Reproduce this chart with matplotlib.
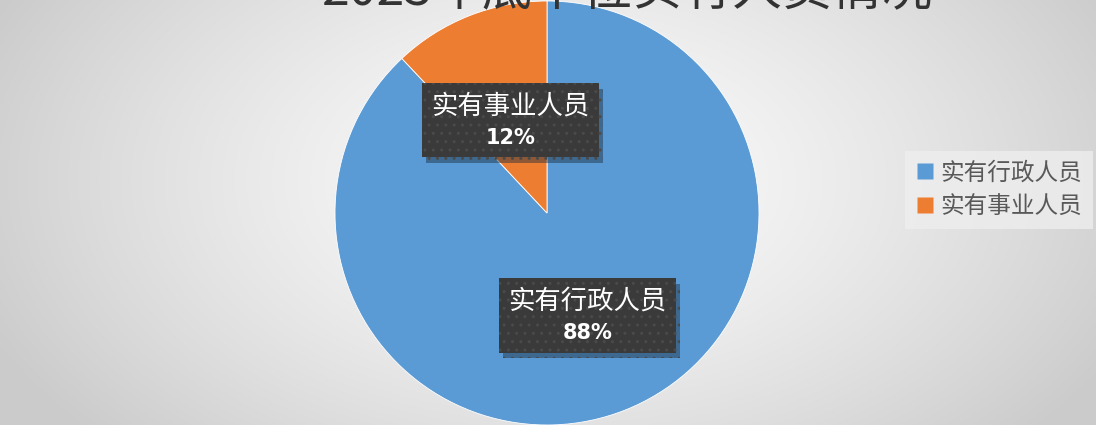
import numpy as np
import matplotlib
matplotlib.use("Agg")
import matplotlib.pyplot as plt
from matplotlib import patheffects as pe
from matplotlib.offsetbox import TextArea, VPacker, AnnotationBbox

plt.rcParams['font.family'] = ['Noto Sans CJK SC', 'DejaVu Sans']
plt.rcParams['hatch.linewidth'] = 1.0

title = "2023年底单位实有人员情况"
categories = ["实有行政人员", "实有事业人员"]
values = [88, 12]
colors = ["#5B9BD5", "#ED7D31"]

W, H = 1096, 425
fig = plt.figure(figsize=(W / 100, H / 100), dpi=100)

# radial gradient background
bg = fig.add_axes([0, 0, 1, 1], zorder=0)
yy, xx = np.mgrid[0:H, 0:W]
cx, cy = 560, 180
d = np.sqrt(((xx - cx) / 620.0) ** 2 + ((yy - cy) / 380.0) ** 2)
d = np.clip(d, 0, 1)
lo, hi = 0.985, 0.80
g = lo + (hi - lo) * d ** 1.4
img = np.dstack([g, g, g])
bg.imshow(img, aspect='auto', extent=[0, 1, 0, 1], origin='upper')
bg.set_axis_off()

# pie axes: center (547,213) radius 212 px
r_px = 212
cxp, cyp = 547, 213
ax = fig.add_axes([(cxp - r_px) / W, (H - cyp - r_px) / H, 2 * r_px / W, 2 * r_px / H], zorder=1)
wedges, _ = ax.pie(values, colors=colors, startangle=90, counterclock=False,
                   wedgeprops=dict(edgecolor='white', linewidth=0.6))
ax.set_xlim(-1, 1)
ax.set_ylim(-1, 1)
ax.set_aspect('equal')
ax.set_axis_off()

label_r = [0.52, 0.47]
for w, cat, v, lr in zip(wedges, categories, values, label_r):
    ang = np.deg2rad((w.theta1 + w.theta2) / 2)
    x, y = lr * np.cos(ang), lr * np.sin(ang)
    t1 = TextArea(cat, textprops=dict(fontsize=19, color='white'))
    t2 = TextArea(f"{v}%", textprops=dict(fontsize=15, fontweight='bold', color='white',
                                          family=['DejaVu Sans']))
    pack = VPacker(children=[t1, t2], align='center', pad=0, sep=6)
    ab = AnnotationBbox(pack, (x, y), xycoords='data', frameon=True,
                        box_alignment=(0.5, 0.5),
                        bboxprops=dict(boxstyle='square,pad=0.68', fc='#3a3a3a',
                                       ec='#4a4a4a', lw=0, hatch='..'))
    ab.set_zorder(5)
    ab.patch.set_path_effects([
        pe.withSimplePatchShadow(offset=(3, -4), shadow_rgbFace='#1a2a3a', alpha=0.45),
        pe.Normal()])
    ax.add_artist(ab)

# title (mostly cut off at top)
fig.text(627 / W, (H - 5) / H, title, ha='center', va='baseline', fontsize=36,
         color='#333333', zorder=3)

# legend
handles = [plt.Line2D([], [], marker='s', linestyle='none', markersize=11,
                      markerfacecolor=c, markeredgecolor='none') for c in colors]
leg = fig.legend(handles, categories, loc='center left',
                 bbox_to_anchor=(905 / W, 1 - 190 / H), frameon=True,
                 fontsize=17, labelcolor='#595959', handletextpad=0.25,
                 borderpad=0.45, labelspacing=0.45, handlelength=0.8,
                 borderaxespad=0)
leg.get_frame().set_facecolor('#eeeeee')
leg.get_frame().set_edgecolor('none')
leg.get_frame().set_alpha(0.8)
leg.get_frame().set_boxstyle('square', pad=0)

fig.savefig("out.png", dpi=100)
